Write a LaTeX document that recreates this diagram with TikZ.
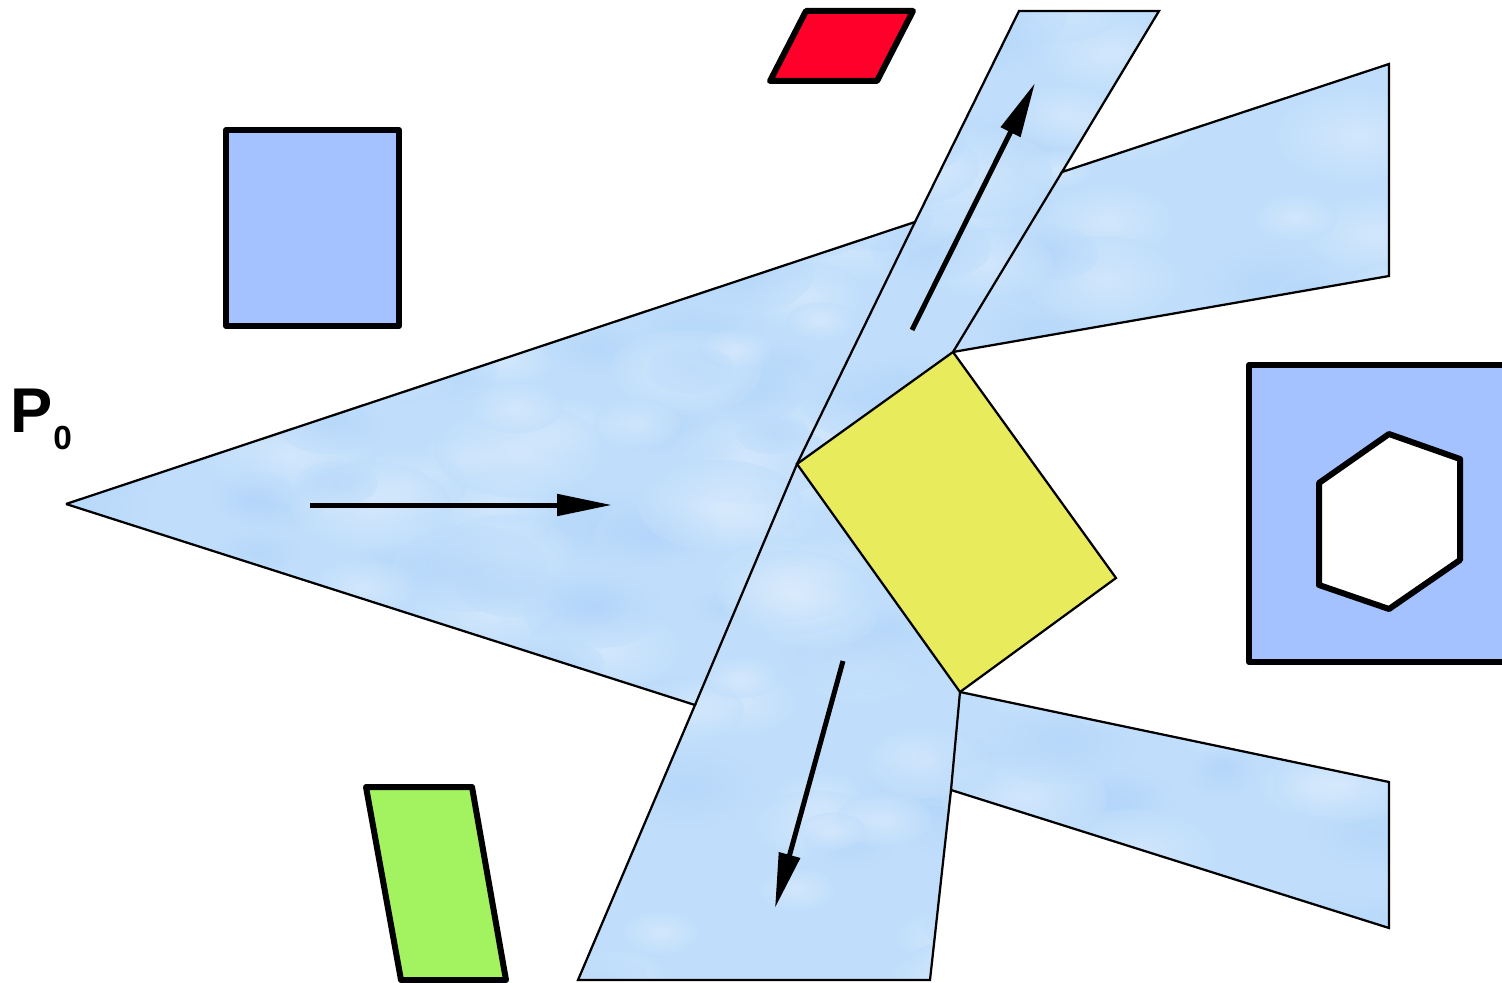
\documentclass[tikz,border=0pt]{standalone}
\usepackage{fontspec}
\setmainfont{Liberation Sans}
\usetikzlibrary{arrows.meta}
\definecolor{sky}{RGB}{192,222,251}
\definecolor{skylight}{RGB}{228,240,253}
\definecolor{skydark}{RGB}{172,209,250}
\definecolor{boxblue}{RGB}{164,194,255}
\definecolor{redfill}{RGB}{255,0,42}
\definecolor{greenfill}{RGB}{163,243,96}
\definecolor{yellowfill}{RGB}{232,235,92}
\tikzset{
  thinedge/.style={draw=black, line width=0.045cm, line join=miter},
  thickedge/.style={draw=black, line width=0.12cm, line join=round},
  flow/.style={draw=black, line width=0.1cm, -{Triangle[length=1.1cm,width=0.42cm]}},
  label/.style={inner sep=0pt, anchor=base west, font=\bfseries},
}
\begin{document}
\begin{tikzpicture}[x=0.02cm,y=-0.02cm]
\useasboundingbox (0,0) rectangle (1502,983);
% key points of the light blue region
\coordinate (A)  at (66,504);
\coordinate (T1) at (915,222);
\coordinate (S1) at (1019,11);
\coordinate (S2) at (1159,11);
\coordinate (T2) at (1062,172);
\coordinate (W1) at (1389,64);
\coordinate (W2) at (1389,276);
\coordinate (Y0) at (797,464);
\coordinate (Y1) at (953,352);
\coordinate (Y2) at (1116,578);
\coordinate (Y3) at (960,692);
\coordinate (W3) at (1389,782);
\coordinate (W4) at (1389,928);
\coordinate (T3) at (951,790);
\coordinate (B2) at (930,980);
\coordinate (B1) at (578,980);
\coordinate (T4) at (695,705);
% textured fill
\begin{scope}
  \clip (A) -- (T1) -- (S1) -- (S2) -- (T2) -- (W1) -- (W2) -- (Y1) -- (Y2) -- (Y3)
        -- (W3) -- (W4) -- (T3) -- (B2) -- (B1) -- (T4) -- cycle;
  \fill[sky] (0,0) rectangle (1502,983);
  \pgfmathsetseed{11}
  \foreach \i in {1,...,320}{
    \pgfmathsetmacro{\bx}{50+1360*rnd}
    \pgfmathsetmacro{\by}{990*rnd}
    \pgfmathsetmacro{\br}{18+30*rnd}
    \ifodd\i
      \shade[inner color=skylight, outer color=sky, opacity=0.5]
        (\bx,\by) ellipse[x radius=1.8*\br, y radius=\br];
    \else
      \shade[inner color=skydark, outer color=sky, opacity=0.45]
        (\bx,\by) ellipse[x radius=1.8*\br, y radius=\br];
    \fi
  }
\end{scope}
% outline of the light blue region
\path[thinedge] (A) -- (T1) -- (S1) -- (S2) -- (T2) -- (W1) -- (W2) -- (Y1)
      (Y3) -- (W3) -- (W4) -- (T3) -- (B2) -- (B1) -- (T4) -- (A);
% inner edges of the strip
\path[thinedge] (T1) -- (Y0) -- (T4);
\path[thinedge] (T2) -- (Y1);
\path[thinedge] (Y3) -- (T3);
% yellow rectangle
\path[thinedge, fill=yellowfill] (Y0) -- (Y1) -- (Y2) -- (Y3) -- cycle;
% arrows
\coordinate (a1s) at (310,505);
\coordinate (a1e) at (612,505);
\coordinate (a2s) at (912,330);
\coordinate (a2e) at (1035,83);
\coordinate (a3s) at (843,661);
\coordinate (a3e) at (775,908);
\draw[flow] (a1s) -- (a1e);
\draw[flow] (a2s) -- (a2e);
\draw[flow] (a3s) -- (a3e);
% blue square
\path[thickedge, fill=boxblue] (226,130) rectangle (399,326);
% red parallelogram
\path[thickedge, fill=redfill] (770,81) -- (806,11) -- (913,11) -- (877,81) -- cycle;
% green parallelogram
\path[thickedge, fill=greenfill] (366,787) -- (472,787) -- (506,980) -- (401,980) -- cycle;
% right square with hexagon
\begin{scope}
  \clip (0,0) rectangle (1502,983);
  \path[thickedge, fill=boxblue] (1249,365) rectangle (1520,662);
\end{scope}
\path[thickedge, fill=white] (1389,434) -- (1460,459) -- (1460,560) -- (1389,609)
      -- (1319,585) -- (1319,483) -- cycle;
% label P0
\node[label, font=\fontsize{36}{40}\selectfont\bfseries] (p) at (10,433) {P};
\node[label, font=\fontsize{19}{22}\selectfont\bfseries] (p0) at (53,449) {0};
\end{tikzpicture}
\end{document}
